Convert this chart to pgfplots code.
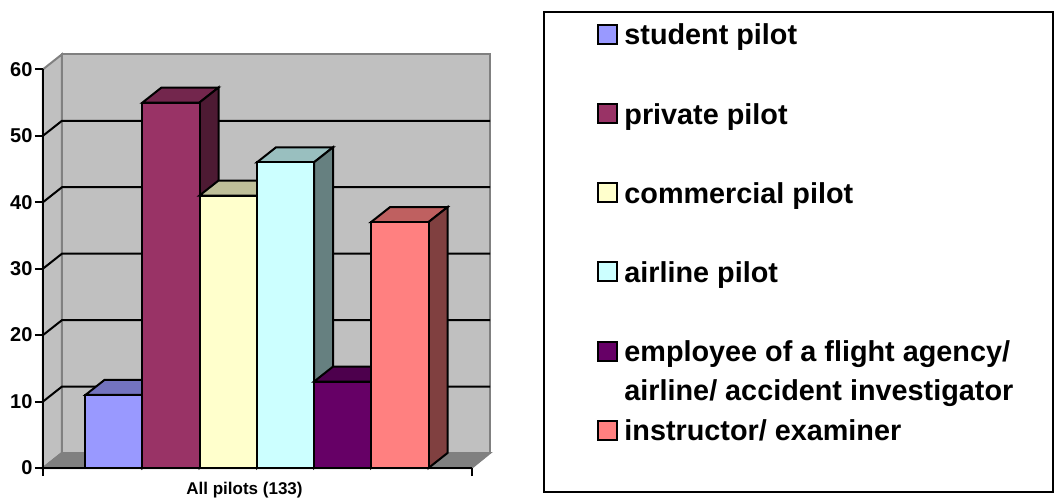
\documentclass[border=0pt]{standalone}
\usepackage{pgfplots}
\pgfplotsset{compat=1.18}
\usepackage{fontspec}
\setmainfont{Liberation Sans}
\definecolor{wall}{HTML}{C0C0C0}
\definecolor{edge}{HTML}{808080}
\definecolor{sA}{HTML}{9999FF}\definecolor{tA}{HTML}{7373BF}\definecolor{rA}{HTML}{4D4D80}
\definecolor{sB}{HTML}{993366}\definecolor{tB}{HTML}{73264D}\definecolor{rB}{HTML}{4D1A33}
\definecolor{sC}{HTML}{FFFFCC}\definecolor{tC}{HTML}{BFBF99}\definecolor{rC}{HTML}{808066}
\definecolor{sD}{HTML}{CCFFFF}\definecolor{tD}{HTML}{99BFBF}\definecolor{rD}{HTML}{668080}
\definecolor{sE}{HTML}{660066}\definecolor{tE}{HTML}{4D004D}\definecolor{rE}{HTML}{330033}
\definecolor{sF}{HTML}{FF8080}\definecolor{tF}{HTML}{BF6060}\definecolor{rF}{HTML}{804040}
\begin{document}
\begin{tikzpicture}
\useasboundingbox (-43pt,-33pt) rectangle (1012pt,468pt);
\begin{axis}[
  scale only axis, width=428.5pt, height=398.7pt,
  anchor=south west, at={(0pt,0pt)},
  xmin=43, xmax=471.5, ymin=0, ymax=60,
  clip=false, axis on top,
  axis x line=bottom, axis y line=left,
  axis line style={black, line width=2pt, -},
  every tick/.style={black, line width=2pt},
  tick align=outside, major tick length=8pt,
  xtick={43,471.5}, xticklabels={},
  ytick={0,10,20,30,40,50,60},
  /pgf/number format/assume math mode=true,
  yticklabel style={font=\fontsize{20}{22}\selectfont\bfseries, xshift=1pt},
  xlabel={All pilots (133)},
  xlabel style={at={(axis cs:244.5,-3.3)}, anchor=center, font=\fontsize{17}{20}\selectfont\bfseries},
  legend cell align=left,
  legend image code/.code={\draw[#1, line width=2pt] (0pt,0.5pt) rectangle (19pt,19.5pt); \path (26pt,0pt);},
  legend style={at={(axis cs:597,66.85)}, anchor=north west, draw=none, fill=none, inner sep=0pt,
    font=\fontsize{28.8}{39.5}\selectfont\bfseries, row sep=52.2pt,
    nodes={inner sep=0pt, align=left, text depth=6pt}},
]
% walls and floor
\addplot[forget plot, fill=wall, draw=edge, line width=2pt] coordinates {(62,2.257)(490,2.257)(490,62.257)(62,62.257)} --cycle;
\addplot[forget plot, fill=wall, draw=edge, line width=2pt] coordinates {(43,0)(62,2.257)(62,62.257)(43,60)} --cycle;
\addplot[forget plot, fill=edge, draw=edge, line width=2pt] coordinates {(43,0)(62,2.257)(490,2.257)(471.5,0)} --cycle;
% gridlines
\addplot[forget plot, black, line width=2pt] coordinates {(43,10)(62,12.257)(490,12.257)};
\addplot[forget plot, black, line width=2pt] coordinates {(43,20)(62,22.257)(490,22.257)};
\addplot[forget plot, black, line width=2pt] coordinates {(43,30)(62,32.257)(490,32.257)};
\addplot[forget plot, black, line width=2pt] coordinates {(43,40)(62,42.257)(490,42.257)};
\addplot[forget plot, black, line width=2pt] coordinates {(43,50)(62,52.257)(490,52.257)};
% student pilot, 11
\addplot[forget plot, fill=tA, draw=black, line width=2pt] coordinates {(85.5,11)(142.5,11)(161.5,13.257)(104.5,13.257)} --cycle;
\addplot[forget plot, fill=rA, draw=black, line width=2pt] coordinates {(142.5,0)(161.5,2.257)(161.5,13.257)(142.5,11)} --cycle;
\addplot[forget plot, fill=sA, draw=black, line width=2pt] coordinates {(85.5,0)(142.5,0)(142.5,11)(85.5,11)} --cycle;
% private pilot, 55
\addplot[forget plot, fill=tB, draw=black, line width=2pt] coordinates {(142.5,55)(199.5,55)(218.5,57.257)(161.5,57.257)} --cycle;
\addplot[forget plot, fill=rB, draw=black, line width=2pt] coordinates {(199.5,0)(218.5,2.257)(218.5,57.257)(199.5,55)} --cycle;
\addplot[forget plot, fill=sB, draw=black, line width=2pt] coordinates {(142.5,0)(199.5,0)(199.5,55)(142.5,55)} --cycle;
% commercial pilot, 41
\addplot[forget plot, fill=tC, draw=black, line width=2pt] coordinates {(199.5,41)(257,41)(276,43.257)(218.5,43.257)} --cycle;
\addplot[forget plot, fill=rC, draw=black, line width=2pt] coordinates {(257,0)(276,2.257)(276,43.257)(257,41)} --cycle;
\addplot[forget plot, fill=sC, draw=black, line width=2pt] coordinates {(199.5,0)(257,0)(257,41)(199.5,41)} --cycle;
% airline pilot, 46
\addplot[forget plot, fill=tD, draw=black, line width=2pt] coordinates {(257,46)(314,46)(333,48.257)(276,48.257)} --cycle;
\addplot[forget plot, fill=rD, draw=black, line width=2pt] coordinates {(314,0)(333,2.257)(333,48.257)(314,46)} --cycle;
\addplot[forget plot, fill=sD, draw=black, line width=2pt] coordinates {(257,0)(314,0)(314,46)(257,46)} --cycle;
% employee, 13
\addplot[forget plot, fill=tE, draw=black, line width=2pt] coordinates {(314,13)(371,13)(390,15.257)(333,15.257)} --cycle;
\addplot[forget plot, fill=rE, draw=black, line width=2pt] coordinates {(371,0)(390,2.257)(390,15.257)(371,13)} --cycle;
\addplot[forget plot, fill=sE, draw=black, line width=2pt] coordinates {(314,0)(371,0)(371,13)(314,13)} --cycle;
% instructor, 37
\addplot[forget plot, fill=tF, draw=black, line width=2pt] coordinates {(371,37)(428.5,37)(447.5,39.257)(390,39.257)} --cycle;
\addplot[forget plot, fill=rF, draw=black, line width=2pt] coordinates {(428.5,0)(447.5,2.257)(447.5,39.257)(428.5,37)} --cycle;
\addplot[forget plot, fill=sF, draw=black, line width=2pt] coordinates {(371,0)(428.5,0)(428.5,37)(371,37)} --cycle;
% legend
\addlegendimage{fill=sA, draw=black, yshift=-7pt}\addlegendentry{student pilot}
\addlegendimage{fill=sB, draw=black, yshift=-7pt}\addlegendentry{private pilot}
\addlegendimage{fill=sC, draw=black, yshift=-7pt}\addlegendentry{commercial pilot}
\addlegendimage{fill=sD, draw=black, yshift=-7pt}\addlegendentry{airline pilot}
\addlegendimage{fill=sE, draw=black, yshift=-7pt}\addlegendentry{\rlap{employee of a flight agency/}\raisebox{-39.5pt}[0pt][0pt]{airline/ accident investigator}}
\addlegendimage{fill=sF, draw=black, yshift=-7pt}\addlegendentry{instructor/ examiner}
\end{axis}
\draw[black, line width=2pt] (501pt,-23.7pt) rectangle (1010pt,456.3pt);
\end{tikzpicture}
\end{document}
